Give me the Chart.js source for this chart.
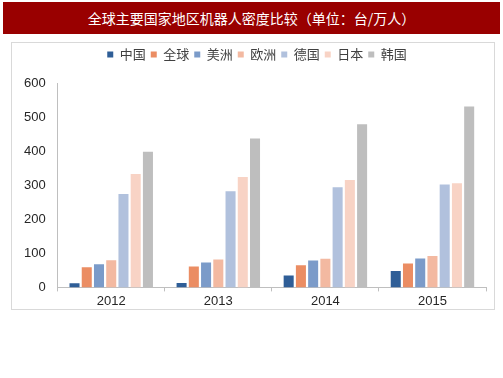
<!DOCTYPE html>
<html><head><meta charset="utf-8">
<script src="https://cdn.jsdelivr.net/npm/chart.js@4/dist/chart.umd.min.js"></script>
<style>
html,body{margin:0;padding:0;background:#fff;width:503px;height:378px;overflow:hidden;}
#banner{position:absolute;left:3px;top:2px;width:497px;height:32px;background:#990000;color:#fff;
font:14px "Noto Sans CJK SC","Noto Sans",sans-serif;text-align:center;line-height:32px;}
#frame{position:absolute;left:11px;top:42px;width:484px;height:268px;border:1px solid #d9d9d9;box-sizing:border-box;}
#wrap{position:absolute;left:12px;top:43px;width:482px;height:266px;}
</style></head>
<body>
<div id="banner">全球主要国家地区机器人密度比较（单位：台/万人）</div>
<div id="frame"></div>
<div id="wrap"><canvas id="c"></canvas></div>
<script>
const categories = ['2012','2013','2014','2015'];
const seriesNames = ['中国','全球','美洲','欧洲','德国','日本','韩国'];
const china    = [12, 13, 35, 48];
const global   = [59, 61, 65, 70];
const americas = [68, 73, 79, 85];
const europe   = [80, 82, 84, 92];
const germany  = [274, 282, 294, 302];
const japan    = [333, 324, 315, 306];
const korea    = [398, 437, 479, 531];
const yTicks   = [0, 100, 200, 300, 400, 500, 600];
const colors = ['#2f5e97','#eb8d63','#7b9bc9','#f3b9a1','#b1c1dd','#f8d3c5','#bebebe'];
const values = [china, global, americas, europe, germany, japan, korea];

const legendMargin = {
  id: 'legendMargin',
  beforeInit(chart) {
    const fit = chart.legend.fit;
    chart.legend.fit = function () { fit.bind(chart.legend)(); this.height += 12; };
  },
  afterLayout(chart) {
    chart.legend.left += 8;
    chart.legend.right += 8;
  }
};

new Chart(document.getElementById('c'), {
  type: 'bar',
  data: {
    labels: categories,
    datasets: seriesNames.map((n, i) => ({
      label: n, data: values[i], backgroundColor: colors[i], borderWidth: 0,
      categoryPercentage: 0.8, barPercentage: 0.82
    }))
  },
  plugins: [legendMargin],
  options: {
    responsive: true, maintainAspectRatio: false, animation: false,
    layout: { padding: { left: 0, right: 8, top: 0, bottom: -2 } },
    plugins: {
      legend: {
        position: 'top',
        labels: { boxWidth: 6, boxHeight: 6, padding: 5, color: '#404040',
          font: { size: 13, family: '"Noto Sans CJK SC", sans-serif' } }
      },
      tooltip: { enabled: false }
    },
    scales: {
      x: {
        grid: { display: true, offset: true, drawOnChartArea: false, drawTicks: true, tickLength: 4, color: '#bfbfbf' },
        border: { display: true, color: '#bfbfbf' },
        ticks: { color: '#262626', font: { size: 13, family: '"Liberation Sans", Arial, sans-serif' }, padding: 2 }
      },
      y: {
        min: 0, max: 600,
        afterBuildTicks: (s) => { s.ticks = yTicks.map(v => ({ value: v })); },
        grid: { display: false, drawTicks: false },
        border: { display: true, color: '#bfbfbf' },
        ticks: { color: '#262626', padding: 12, font: { size: 13, family: '"Liberation Sans", Arial, sans-serif' } }
      }
    }
  }
});
</script>
</body></html>
